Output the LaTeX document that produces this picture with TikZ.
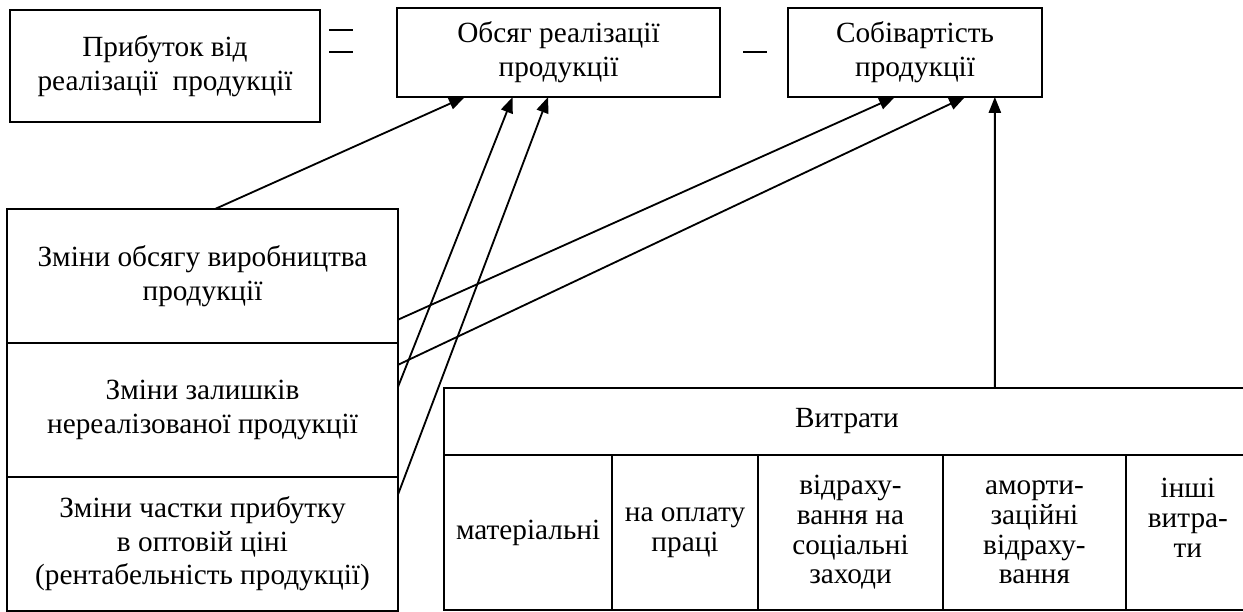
\documentclass[tikz,border=0pt]{standalone}
\usepackage{fontspec}
\setmainfont{Liberation Serif}
\usetikzlibrary{arrows.meta, positioning}

\begin{document}
\begin{tikzpicture}[
        x=0.0144cm, y=-0.0144cm,
        node distance=0cm,
        block/.style={rectangle, draw, line width=0.8pt, outer sep=0pt, inner sep=0pt, align=center, font=\fontsize{12}{13.8}\selectfont},
        change/.style={block, minimum width=5.63cm, minimum height=1.93cm},
        cell/.style={block, minimum height=2.232cm, font=\fontsize{12}{12.2}\selectfont},
        link/.style={line width=0.75pt, -{Triangle[length=6.5pt, width=5pt]}}
    ]
        \useasboundingbox (0,0) rectangle (1243,612);

        \node[block, minimum width=4.464cm, minimum height=1.613cm] (profit) at (165,66) {Прибуток від\\реалізації\ \ продукції};
        \node[block, minimum width=4.651cm, minimum height=1.282cm] (volume) at (558.5,52.5) {Обсяг реалізації\\продукції};
        \node[block, minimum width=3.658cm, minimum height=1.282cm] (cost) at (915,52.5) {Собівартість\\продукції};

        \draw[line width=0.8pt] (329,30) -- (353,30) (329,52) -- (353,52);
        \draw[line width=0.8pt] (743,52) -- (767,52);

        \node[change] (chvol) at (202.5,276) {Зміни обсягу виробництва\\продукції};
        \node[change, below=of chvol] (chstock) {Зміни залишків\\нереалізованої продукції};
        \node[change, below=of chstock] (chshare) {Зміни частки прибутку\\в оптовій ціні\\(рентабельність продукції)};

        \node[block, minimum width=11.606cm, minimum height=0.965cm] (costs) at (847,421.5) {Витрати};
        \node[cell, minimum width=2.419cm, below right=of costs.south west] (mat) {матеріальні};
        \node[cell, minimum width=2.102cm, right=of mat] (pay) {на оплату\\праці};
        \node[cell, minimum width=2.664cm, right=of pay] (soc) {відраху-\\вання на\\соціальні\\заходи};
        \node[cell, minimum width=2.635cm, right=of soc] (amort) {аморти-\\заційні\\відраху-\\вання};
        \node[cell, minimum width=1.786cm, right=of amort] (other) {інші\\витра-\\ти\\~};

        \draw[link] ([xshift=0.18cm]chvol.north) -- ([xshift=-1.35cm]volume.south);
        \draw[link] ([yshift=0.33cm]chstock.east) -- ([xshift=-0.66cm]volume.south);
        \draw[link] ([yshift=0.71cm]chshare.east) -- ([xshift=-0.15cm]volume.south);
        \draw[link] ([yshift=-0.63cm]chvol.east) -- ([xshift=-0.29cm]cost.south);
        \draw[link] ([yshift=0.65cm]chstock.east) -- ([xshift=0.72cm]cost.south);
        \draw[link] ([xshift=2.13cm]costs.north) -- ([xshift=1.15cm]cost.south);
    \end{tikzpicture}
\end{document}
